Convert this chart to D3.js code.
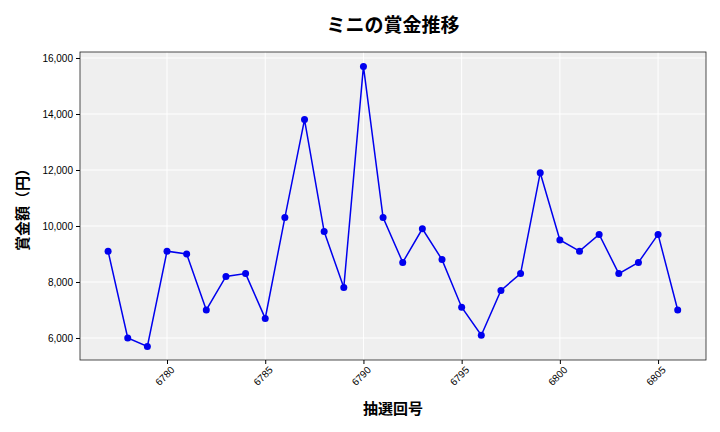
<!DOCTYPE html>
<html><head><meta charset="utf-8">
<script src="https://cdn.jsdelivr.net/npm/d3@7"></script>
<style>body{margin:0;background:#fff;font-family:"Noto Sans CJK JP","Noto Sans",sans-serif}</style>
</head><body>
<svg width="720" height="432"></svg>
<script>
// draw data
const draws = d3.range(6777, 6807);
const prizes = [9100,6000,5700,9100,9000,7000,8200,8300,6700,10300,13800,9800,7800,15700,10300,8700,9900,8800,7100,6100,7700,8300,11900,9500,9100,9700,8300,8700,9700,7000];
const xTicks = [6780,6785,6790,6795,6800,6805];
const yTicks = [6000,8000,10000,12000,14000,16000];

const svg = d3.select("svg");
const m = {l:80, r:706, t:52, b:360};

const x = d3.scaleLinear().domain([6775.57, 6807.44]).range([m.l, m.r]);
const y = d3.scaleLinear().domain([5214, 16214]).range([m.b, m.t]);

svg.append("rect").attr("x", m.l).attr("y", m.t)
   .attr("width", m.r-m.l).attr("height", m.b-m.t).attr("fill", "#efefef");

// grid
svg.append("g").selectAll("line").data(xTicks).enter().append("line")
   .attr("x1", d=>x(d)).attr("x2", d=>x(d)).attr("y1", m.t).attr("y2", m.b)
   .attr("stroke", "#fff").attr("stroke-width", 1);
svg.append("g").selectAll("line").data(yTicks).enter().append("line")
   .attr("x1", m.l).attr("x2", m.r).attr("y1", d=>y(d)).attr("y2", d=>y(d))
   .attr("stroke", "#fff").attr("stroke-width", 1);

svg.append("rect").attr("x", m.l).attr("y", m.t)
   .attr("width", m.r-m.l).attr("height", m.b-m.t)
   .attr("fill", "none").attr("stroke", "#222").attr("stroke-width", 0.8);

// axes
const xa = svg.append("g").attr("transform", `translate(0,${m.b})`)
   .call(d3.axisBottom(x).tickValues(xTicks).tickFormat(d3.format("d")).tickSize(4));
xa.select(".domain").remove();
xa.selectAll("text").attr("transform", "rotate(-45)").attr("text-anchor", "end")
   .attr("dx", "-0.2em").attr("dy", "0.6em").style("font-size", "10px");

const ya = svg.append("g").attr("transform", `translate(${m.l},0)`)
   .call(d3.axisLeft(y).tickValues(yTicks).tickFormat(d3.format(",")).tickSize(4));
ya.select(".domain").remove();
ya.selectAll("text").style("font-size", "10px");

// line + points
const line = d3.line().x((d,i)=>x(draws[i])).y(d=>y(d));
svg.append("path").datum(prizes).attr("d", line)
   .attr("fill", "none").attr("stroke", "#0000ee").attr("stroke-width", 1.5);
svg.append("g").selectAll("circle").data(prizes).enter().append("circle")
   .attr("cx", (d,i)=>x(draws[i])).attr("cy", d=>y(d)).attr("r", 3.5).attr("fill", "#0000ee");

// labels
svg.append("text").attr("x", 393).attr("y", 32).attr("text-anchor", "middle")
   .style("font-size", "19px").style("font-weight", "bold").text("ミニの賞金推移");
svg.append("text").attr("x", 393).attr("y", 414).attr("text-anchor", "middle")
   .style("font-size", "15px").style("font-weight", "bold").text("抽選回号");
svg.append("text").attr("transform", "translate(28,206) rotate(-90)").attr("text-anchor", "middle")
   .style("font-size", "15px").style("font-weight", "bold").text("賞金額（円）");
</script>
</body></html>
